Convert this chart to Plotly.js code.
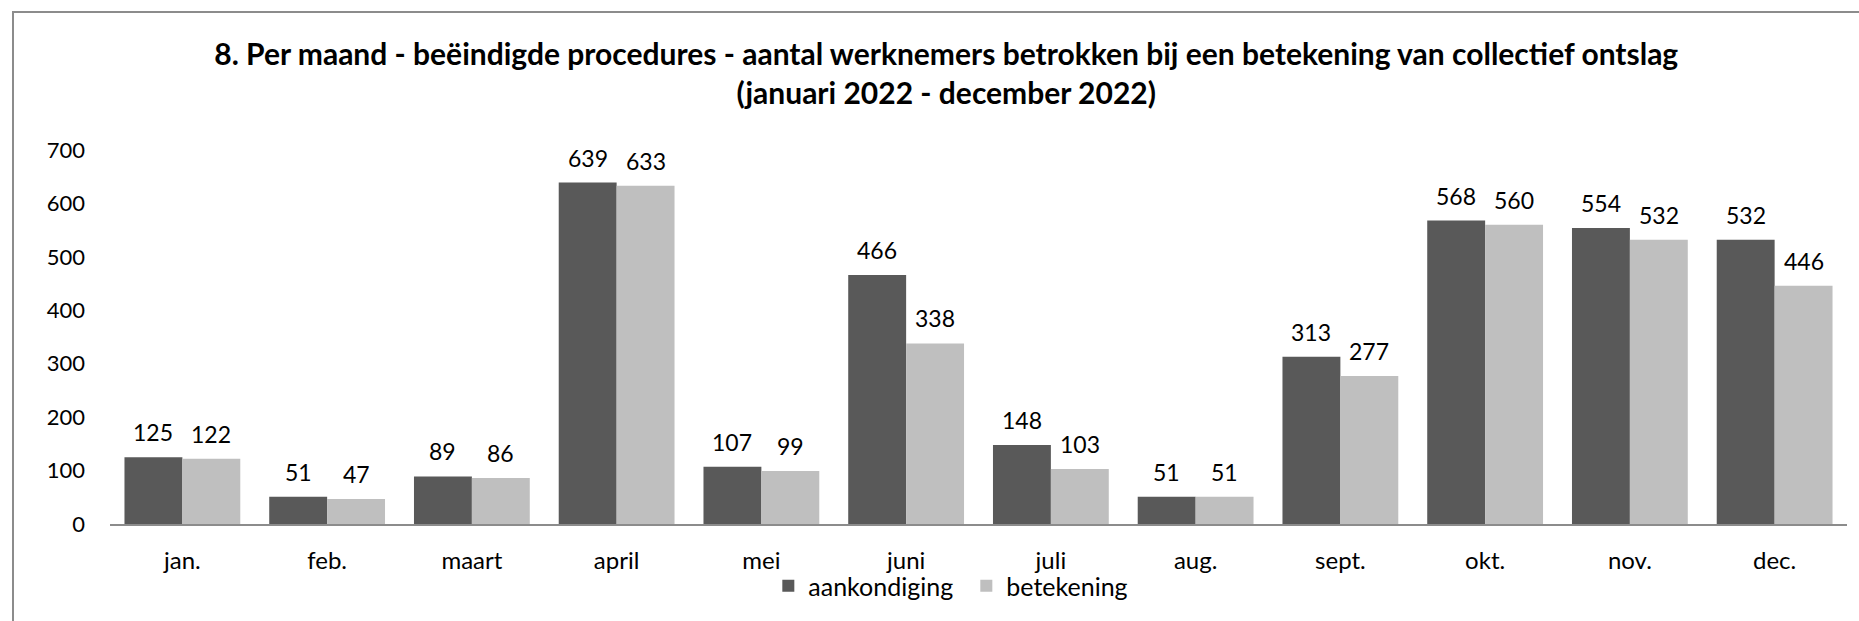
<!DOCTYPE html>
<html>
<head>
<meta charset="utf-8">
<script src="https://cdn.plot.ly/plotly-3.0.1.min.js"></script>
<style>
  body { margin: 0; padding: 0; background: #ffffff; }
  #chart { width: 1859px; height: 621px; }
</style>
</head>
<body>
<div id="chart"></div>
<script>
var months = ['jan.', 'feb.', 'maart', 'april', 'mei', 'juni', 'juli', 'aug.', 'sept.', 'okt.', 'nov.', 'dec.'];
var aankondiging = [125, 51, 89, 639, 107, 466, 148, 51, 313, 568, 554, 532];
var betekening = [122, 47, 86, 633, 99, 338, 103, 51, 277, 560, 532, 446];
var yTicks = [0, 100, 200, 300, 400, 500, 600, 700];

var chartDiv = document.getElementById('chart');
var fontFamily = 'Lato, "Open Sans", sans-serif';

// value labels above the bars, one set per series (shifted onto each bar of the group)
function buildLabels(values, shift) {
    let labels = [];
    for (let i = 0; i < values.length; i++) {
        labels.push({
            x: months[i],
            y: values[i],
            xref: 'x',
            yref: 'y',
            text: String(values[i]),
            showarrow: false,
            xanchor: 'center',
            yanchor: 'bottom',
            xshift: shift,
            yshift: 9,
            font: {size: 23, color: '#000000', family: fontFamily}
        });
    }
    return labels;
}

function drawChart() {
    let traceA = {
        x: months,
        y: aankondiging,
        name: 'aankondiging',
        type: 'bar',
        marker: {color: '#595959'}
    };

    let traceB = {
        x: months,
        y: betekening,
        name: 'betekening',
        type: 'bar',
        marker: {color: '#bfbfbf'}
    };

    let layout = {
        width: 1859,
        height: 621,
        paper_bgcolor: '#ffffff',
        plot_bgcolor: '#ffffff',
        font: {family: fontFamily, size: 22, color: '#000000'},
        title: {
            text: '<b>8. Per maand - beëindigde procedures - aantal werknemers betrokken bij een betekening van collectief ontslag<br>(januari 2022 - december 2022)</b>',
            font: {size: 30, family: fontFamily, color: '#000000'},
            x: 0.509,
            xanchor: 'center',
            y: 1 - 65 / 621,
            yanchor: 'middle'
        },
        barmode: 'group',
        bargap: 0.2,
        bargroupgap: 0,
        showlegend: true,
        legend: {
            orientation: 'h',
            x: 0.379,
            xanchor: 'left',
            y: -0.166,
            yanchor: 'middle',
            bgcolor: 'rgba(0,0,0,0)',
            font: {size: 25, family: fontFamily},
            itemwidth: 30,
            entrywidth: 153,
            traceorder: 'normal'
        },
        xaxis: {
            type: 'category',
            showline: true,
            linecolor: '#8c8c8c',
            linewidth: 2,
            showgrid: false,
            ticks: '',
            tickfont: {size: 24},
            ticklabelstandoff: 14,
            fixedrange: true
        },
        yaxis: {
            range: [0, 700],
            tickvals: yTicks,
            showline: false,
            showgrid: false,
            zeroline: false,
            ticks: '',
            tickfont: {size: 22},
            ticklabelstandoff: 24,
            fixedrange: true
        },
        margin: {l: 110, r: 12, t: 150, b: 97},
        annotations: buildLabels(aankondiging, -29).concat(buildLabels(betekening, 29)),
        shapes: [{
            type: 'rect',
            xref: 'paper',
            yref: 'paper',
            x0: -97 / 1737,
            x1: 1 + 40 / 1737,
            y0: -140 / 374,
            y1: 1 + 138 / 374,
            line: {color: '#8c8c8c', width: 2},
            fillcolor: 'rgba(0,0,0,0)'
        }]
    };

    Plotly.newPlot(chartDiv, [traceA, traceB], layout, {displayModeBar: false, staticPlot: true});
}

drawChart();
</script>
</body>
</html>
